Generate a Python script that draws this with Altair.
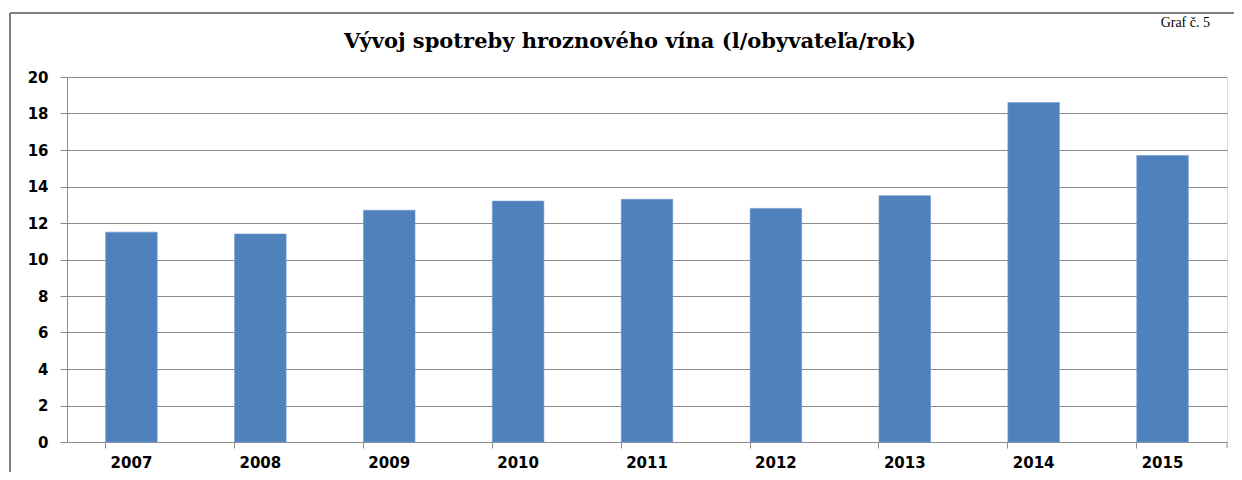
import altair as alt
import pandas as pd

years = ["2007", "2008", "2009", "2010", "2011", "2012", "2013", "2014", "2015"]
values = [11.5, 11.4, 12.7, 13.2, 13.3, 12.8, 13.5, 18.6, 15.7]
y_ticks = [0, 2, 4, 6, 8, 10, 12, 14, 16, 18, 20]
title_text = "Vývoj spotreby hroznového vína (l/obyvateľa/rok)"
corner_text = "Graf č. 5"

df = pd.DataFrame({"rok": years, "hodnota": values})

W, H = 1160, 365
GRID = "#8c8c8c"
LABEL_FONT = "DejaVu Sans"

xscale = alt.Scale(paddingInner=0.6, paddingOuter=0.3)
yscale = alt.Scale(domain=[0, 20])

yaxis = alt.Axis(values=y_ticks, grid=True, gridColor=GRID, gridOpacity=1, gridWidth=1,
                 domainColor=GRID, domainWidth=1, tickColor=GRID, tickSize=7,
                 labelFont=LABEL_FONT, labelFontSize=15, labelFontWeight="bold",
                 labelColor="#000000", labelPadding=12, labelOverlap=False)

bars = alt.Chart(df).mark_bar(color="#4F81BD", stroke="#6e9bd0", strokeWidth=0.6).encode(
    x=alt.X("rok:N", scale=xscale, sort=years, title=None,
            axis=alt.Axis(orient="bottom", labelAngle=0, ticks=False, domain=False, grid=False,
                          labelFont=LABEL_FONT, labelFontSize=15, labelFontWeight="bold",
                          labelColor="#000000", labelPadding=13)),
    y=alt.Y("hodnota:Q", scale=yscale, title=None, axis=yaxis),
)

ticks_layer = alt.Chart(df).mark_bar(opacity=0).encode(
    x=alt.X("rok:N", scale=xscale, sort=years, title=None,
            axis=alt.Axis(orient="bottom", bandPosition=0, labels=False, ticks=True, tickSize=6,
                          tickColor=GRID, domain=True, domainColor=GRID, grid=False)),
    y=alt.Y("hodnota:Q", scale=yscale, title=None, axis=yaxis),
)

end_tick = alt.Chart(df.head(1)).mark_rule(color=GRID, strokeWidth=1).encode(
    x=alt.value(W), y=alt.value(H), y2=alt.value(H + 6)
)

frame_top = alt.Chart(df.head(1)).mark_rule(color="#808080", strokeWidth=2).encode(
    x=alt.value(-57), x2=alt.value(W + 20), y=alt.value(-64)
)
frame_left = alt.Chart(df.head(1)).mark_rule(color="#808080", strokeWidth=2).encode(
    x=alt.value(-57), y=alt.value(-64), y2=alt.value(H + 60)
)

title = alt.Chart(pd.DataFrame({"t": [title_text]})).mark_text(
    font="DejaVu Serif", fontSize=21, fontWeight="bold", color="#000000",
    align="center", baseline="middle"
).encode(text="t:N", x=alt.value(563), y=alt.value(-35))

corner = alt.Chart(pd.DataFrame({"t": [corner_text]})).mark_text(
    font="Liberation Serif", fontSize=14, color="#000000",
    align="right", baseline="alphabetic"
).encode(text="t:N", x=alt.value(1143), y=alt.value(-50))

chart = alt.layer(bars, ticks_layer, end_tick, frame_top, frame_left, title, corner).resolve_axis(
    x="independent"
).properties(
    width=W, height=H,
    autosize=alt.AutoSizeParams(type="none"),
    padding={"left": 59, "top": 69, "right": 7, "bottom": 30},
).configure_view(stroke=None).configure(background="white")

chart.save("out.html", embed_options={"renderer": "svg", "actions": False})
